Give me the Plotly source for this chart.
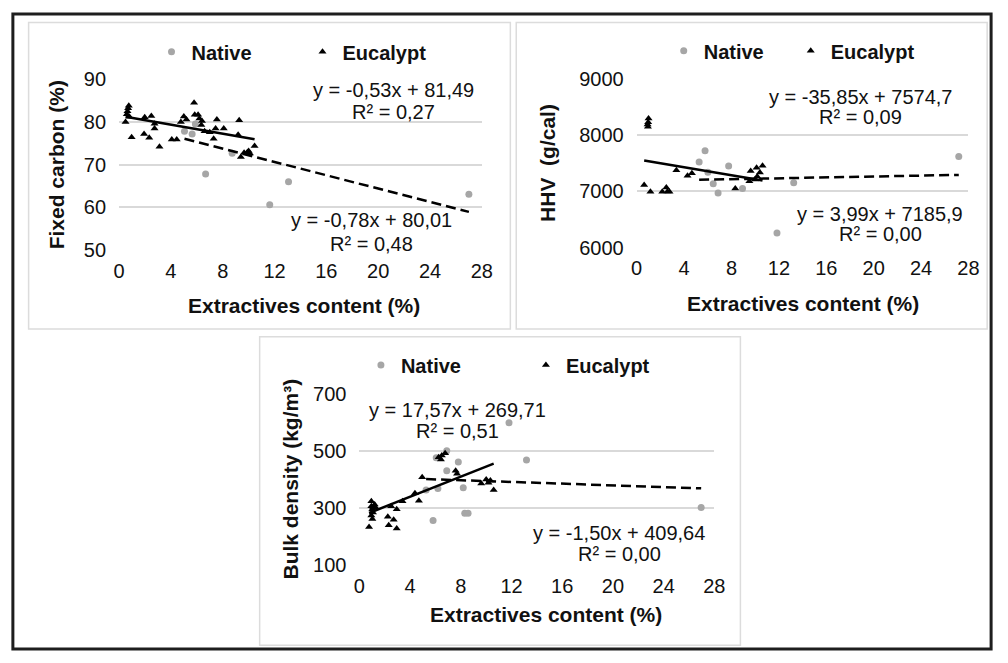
import plotly.graph_objects as go

W, H = 1008, 663

# ---------------- Data ----------------
# Panel 1: Fixed carbon (%) vs extractives content (%)
fc_native_x = [5.05, 5.64, 5.89, 6.68, 8.73, 11.63, 13.08, 27.0]
fc_native_y = [77.8, 77.2, 79.5, 67.8, 72.7, 60.6, 66.0, 63.1]
fc_euc_x = [0.5, 0.6, 0.65, 0.7, 0.75, 0.8, 0.97, 1.98, 1.93, 2.49, 2.33, 2.74, 2.74,
            3.12, 4.07, 4.45, 4.77, 5.0, 5.2, 5.79, 5.84, 6.1, 6.2, 6.4, 6.35, 6.6,
            7.0, 7.3, 7.45, 7.55, 8.08, 9.27, 9.19, 9.4, 9.65, 9.9, 10.0, 10.1, 10.46]
fc_euc_y = [80.0, 81.8, 82.5, 83.2, 83.8, 81.2, 76.4, 81.1, 77.2, 81.4, 76.3, 79.6, 78.5,
            74.2, 75.9, 75.9, 80.0, 81.3, 80.6, 84.5, 81.7, 81.7, 80.8, 80.2, 79.3, 77.8,
            77.6, 76.1, 78.5, 80.6, 78.5, 80.4, 77.0, 71.8, 72.8, 72.9, 73.2, 72.6, 74.4]
fc_euc_fit = [-0.53, 81.49]
fc_nat_fit = [-0.78, 80.01]
fc_euc_eq = ["y = -0,53x + 81,49", "R² = 0,27"]
fc_nat_eq = ["y = -0,78x + 80,01", "R² = 0,48"]

# Panel 2: HHV (g/cal)
hhv_native_x = [5.27, 5.77, 6.01, 6.46, 6.87, 7.76, 8.93, 11.84, 13.25, 27.18]
hhv_native_y = [7525, 7724, 7342, 7137, 6971, 7451, 7051, 6258, 7154, 7622]
hhv_euc_x = [0.63, 0.92, 0.95, 0.97, 1.0, 1.16, 2.16, 2.5, 2.6, 2.77, 3.35, 4.29, 4.66,
             8.32, 9.51, 9.62, 9.98, 10.12, 10.17, 10.4, 10.62]
hhv_euc_y = [7113, 8190, 8150, 8230, 8300, 6993, 6993, 7068, 7000, 6993, 7377, 7279, 7325,
             7051, 7182, 7365, 7210, 7421, 7267, 7335, 7455]
hhv_euc_fit = [-35.85, 7574.7]
hhv_nat_fit = [3.99, 7185.9]
hhv_euc_eq = ["y = -35,85x + 7574,7", "R² = 0,09"]
hhv_nat_eq = ["y = 3,99x + 7185,9", "R² = 0,00"]

# Panel 3: Bulk density (kg/m3)
bd_native_x = [5.26, 5.81, 6.06, 6.19, 6.89, 6.89, 7.8, 8.19, 8.31, 8.57, 11.8, 13.18, 26.96]
bd_native_y = [363, 257, 476, 369, 501, 431, 461, 371, 282, 282, 599, 468, 302]
bd_euc_x = [0.76, 0.94, 0.94, 1.02, 1.07, 0.94, 1.02, 1.07, 1.2, 1.28, 2.24, 2.7, 2.31,
            2.94, 2.5, 2.94, 3.4, 4.38, 4.69, 4.95, 6.25, 6.5, 6.76, 6.43, 7.59, 7.7,
            9.61, 10.0, 10.18, 10.33, 10.59]
bd_euc_y = [234, 324, 307, 296, 302, 274, 262, 285, 313, 302, 270, 259, 240,
            229, 307, 296, 324, 352, 326, 408, 478, 484, 492, 470, 431, 420,
            386, 400, 389, 397, 363]
bd_euc_fit = [17.57, 269.71]
bd_nat_fit = [-1.50, 409.64]
bd_euc_eq = ["y = 17,57x + 269,71", "R² = 0,51"]
bd_nat_eq = ["y = -1,50x + 409,64", "R² = 0,00"]

x_ticks = [0, 4, 8, 12, 16, 20, 24, 28]
fc_ticks = [50, 60, 70, 80, 90]
hhv_ticks = [6000, 7000, 8000, 9000]
bd_ticks = [100, 300, 500, 700]

# ---------------- Layout helpers ----------------
FONT = "Liberation Sans, Arial, sans-serif"
TXT = "#111111"
GRID = "#d9d9d9"
GREY_PT = "#a6a6a6"


def px(x):
    return x / W


def py(y):
    return 1 - y / H


fig = go.Figure()

panels = [
    dict(ax="", nx=fc_native_x, ny=fc_native_y, ex=fc_euc_x, ey=fc_euc_y,
         efit=fc_euc_fit, nfit=fc_nat_fit, leg="legend"),
    dict(ax="2", nx=hhv_native_x, ny=hhv_native_y, ex=hhv_euc_x, ey=hhv_euc_y,
         efit=hhv_euc_fit, nfit=hhv_nat_fit, leg="legend2"),
    dict(ax="3", nx=bd_native_x, ny=bd_native_y, ex=bd_euc_x, ey=bd_euc_y,
         efit=bd_euc_fit, nfit=bd_nat_fit, leg="legend3"),
]

for p in panels:
    xa, ya = "x" + p["ax"], "y" + p["ax"]
    fig.add_trace(go.Scatter(x=p["nx"], y=p["ny"], mode="markers", name="Native",
                             marker=dict(color=GREY_PT, size=7, symbol="circle"),
                             xaxis=xa, yaxis=ya, legend=p["leg"]))
    fig.add_trace(go.Scatter(x=p["ex"], y=p["ey"], mode="markers", name="Eucalypt",
                             marker=dict(color="black", size=7, symbol="triangle-up"),
                             xaxis=xa, yaxis=ya, legend=p["leg"]))
    # trend lines (from the printed equations, over each series' x-range)
    ex0, ex1 = min(p["ex"]), max(p["ex"])
    a, b = p["efit"]
    fig.add_trace(go.Scatter(x=[ex0, ex1], y=[a * ex0 + b, a * ex1 + b], mode="lines",
                             line=dict(color="black", width=2.5), showlegend=False,
                             hoverinfo="skip", xaxis=xa, yaxis=ya))
    nx0, nx1 = min(p["nx"]), max(p["nx"])
    a, b = p["nfit"]
    fig.add_trace(go.Scatter(x=[nx0, nx1], y=[a * nx0 + b, a * nx1 + b], mode="lines",
                             line=dict(color="black", width=2.5, dash="10px,5px"),
                             showlegend=False, hoverinfo="skip", xaxis=xa, yaxis=ya))

# plot-area boxes in pixels: (left, right, top, bottom)
areas = {
    "": (115, 484, 70.7, 248.3, [50, 90], fc_ticks),
    "2": (641.5, 979, 70.5, 245.7, [6000, 9000], hhv_ticks),
    "3": (359.5, 720.5, 395, 573.3, [100, 700], bd_ticks),
}

for k, (l, r, t, b, yr, yt) in areas.items():
    span = yr[1] - yr[0]
    pad = span * 0.004
    xkey = "xaxis" + k
    ykey = "yaxis" + k
    fig.layout[xkey] = dict(domain=[px(l), px(r)], range=[0, 28], tickvals=x_ticks,
                            showgrid=False, zeroline=False, showline=False, ticks="",
                            tickfont=dict(family=FONT, size=20, color=TXT),
                            ticklabelstandoff=6,
                            anchor="y" + k, fixedrange=True)
    fig.layout[ykey] = dict(domain=[py(b), py(t)], range=[yr[0] - pad, yr[1] + pad],
                            tickvals=yt, showgrid=True, gridcolor=GRID, gridwidth=1.5,
                            zeroline=False, showline=False, ticks="",
                            tickfont=dict(family=FONT, size=20, color=TXT),
                            ticklabelstandoff=12,
                            anchor="x" + k, fixedrange=True)

# legends
leg_common = dict(orientation="h", xanchor="left", yanchor="middle",
                  bgcolor="rgba(0,0,0,0)",
                  font=dict(family=FONT, size=20, color=TXT, weight="bold"),
                  entrywidthmode="pixels", itemwidth=30)
fig.update_layout(
    legend=dict(x=px(148), y=py(43), entrywidth=151 - 45, **leg_common),
    legend2=dict(x=px(669), y=py(42), entrywidth=127 - 45, **leg_common),
    legend3=dict(x=px(361), y=py(366), entrywidth=165 - 45, **leg_common),
)

annotations = []


def text(x, y, s, size=20, bold=False, angle=0):
    annotations.append(dict(x=px(x), y=py(y), xref="paper", yref="paper", text=s,
                            showarrow=False, xanchor="center", yanchor="middle",
                            textangle=angle,
                            font=dict(family=FONT, size=size, color=TXT,
                                      weight="bold" if bold else "normal")))


# equations
text(394, 83, fc_euc_eq[0]); text(394, 105, fc_euc_eq[1])
text(372, 217, fc_nat_eq[0]); text(372, 241, fc_nat_eq[1])
text(869, 90, hhv_euc_eq[0]); text(869, 110, hhv_euc_eq[1])
text(889, 210, hhv_nat_eq[0]); text(889, 231, hhv_nat_eq[1])
text(459, 412, bd_euc_eq[0]); text(459, 434, bd_euc_eq[1])
text(624, 539, bd_nat_eq[0]); text(624, 561, bd_nat_eq[1])

# axis titles
text(303, 305, "Extractives content (%)", size=21, bold=True)
text(811, 303, "Extractives content (%)", size=21, bold=True)
text(549, 623, "Extractives content (%)", size=21, bold=True)
text(51, 160, "Fixed carbon (%)", size=21, bold=True, angle=-90)
text(551, 158, "HHV  (g/cal)", size=21, bold=True, angle=-90)
text(289, 484, "Bulk density (kg/m³)", size=21, bold=True, angle=-90)

shapes = []


def rect(x0, y0, x1, y1, color, width):
    shapes.append(dict(type="rect", xref="paper", yref="paper",
                       x0=px(x0), x1=px(x1), y0=py(y1), y1=py(y0),
                       line=dict(color=color, width=width), fillcolor="rgba(0,0,0,0)",
                       layer="below"))


rect(7, 4, 1002, 659, "#1e1e1e", 3)
rect(23, 13, 513, 329, "#dcdcdc", 1.5)
rect(519, 13, 998, 329, "#dcdcdc", 1.5)
rect(258, 337, 747, 655, "#dcdcdc", 1.5)

# size comes from the absolutely positioned page div (1008x663 at the top-left corner)
fig.update_layout(autosize=True, margin=dict(l=0, r=0, t=0, b=0),
                  paper_bgcolor="white", plot_bgcolor="white",
                  annotations=annotations, shapes=shapes, showlegend=True,
                  hovermode=False)

fig.write_html("out.html", config={"displayModeBar": False},
               default_width="1008px; position:absolute; left:0; top:0",
               default_height="663px",
               post_script="document.body.style.margin='0';document.body.style.overflow='hidden';")
